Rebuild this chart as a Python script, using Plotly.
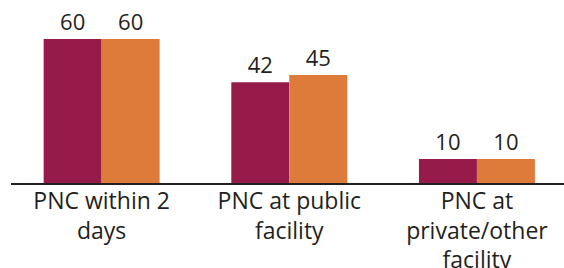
import plotly.graph_objects as go

categories = ["PNC within 2<br>days", "PNC at public<br>facility", "PNC at<br>private/other<br>facility"]
series_a = [60, 42, 10]
series_b = [60, 45, 10]

color_a = "#961B4B"
color_b = "#DF7B3A"
text_color = "#231F20"
font_family = "Open Sans, Noto Sans, sans-serif"

fig = go.Figure()
fig.add_trace(go.Bar(x=categories, y=series_a, marker=dict(color=color_a, line=dict(width=0)),
                     text=series_a, textposition="outside", cliponaxis=False,
                     textfont=dict(size=22, color=text_color, family=font_family)))
fig.add_trace(go.Bar(x=categories, y=series_b, marker=dict(color=color_b, line=dict(width=0)),
                     text=series_b, textposition="outside", cliponaxis=False,
                     textfont=dict(size=22, color=text_color, family=font_family)))

fig.update_layout(
    width=564, height=268,
    margin=dict(l=11, r=0, t=0, b=85, autoexpand=False),
    paper_bgcolor="white", plot_bgcolor="white",
    barmode="group", bargap=0.382, bargroupgap=0,
    showlegend=False,
    font=dict(family=font_family, color=text_color),
)
fig.update_xaxes(range=[-0.483, 2.464], showline=True, linecolor="#231F20", linewidth=2,
                 ticks="", showgrid=False, zeroline=False, automargin=False,
                 ticklabelstandoff=-4,
                 tickfont=dict(size=23, color=text_color, family=font_family))
fig.update_yaxes(range=[0, 76.25], visible=False, showgrid=False, zeroline=False, automargin=False)

fig.write_html("out.html", config={"displayModeBar": False},
               post_script="document.body.style.margin='0';document.body.style.overflow='hidden';")
